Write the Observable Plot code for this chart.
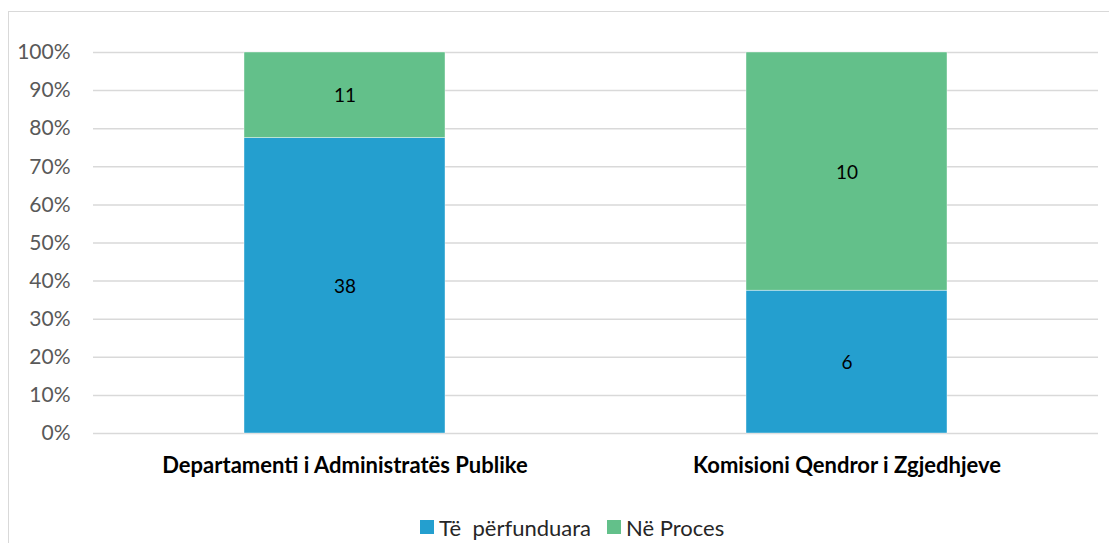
<!DOCTYPE html>
<html>
<head>
<meta charset="utf-8">
<script src="https://cdn.jsdelivr.net/npm/d3@7"></script>
<script src="https://cdn.jsdelivr.net/npm/@observablehq/plot@0.6"></script>
<style>
  html, body { margin: 0; padding: 0; background: #fff; overflow: hidden; }
  #wrap { position: relative; width: 1109px; height: 543px; font-family: Lato, "Open Sans", sans-serif; }
  #frame { position: absolute; left: 8px; top: 11px; width: 1120px; height: 560px; border: 1px solid #d9d9d9; box-sizing: border-box; }
  #chart { position: absolute; left: 0; top: 0; }
  #legend { position: absolute; left: 420px; top: 514px; height: 26px; display: flex; align-items: center; gap: 16px; font-size: 22px; color: #262626; }
  #legend .item { display: flex; align-items: center; gap: 5px; white-space: pre; }
  #legend .sw { width: 14px; height: 14px; display: inline-block; }
</style>
</head>
<body>
<div id="wrap">
  <div id="frame"></div>
  <div id="chart"></div>
  <div id="legend"></div>
</div>
<script>
const categories = ["Departamenti i Administratës Publike", "Komisioni Qendror i Zgjedhjeve"];
const seriesNames = ["Të  përfunduara", "Në Proces"];
const completed = [38, 6];
const inProcess = [11, 10];
const colors = ["#249fcf", "#63c08a"];
const yTicks = [0, 0.1, 0.2, 0.3, 0.4, 0.5, 0.6, 0.7, 0.8, 0.9, 1];

const data = [];
categories.forEach((c, i) => {
  data.push({category: c, series: seriesNames[0], value: completed[i]});
  data.push({category: c, series: seriesNames[1], value: inProcess[i]});
});

const stackOpts = {x: "category", y: "value", z: "series", offset: "normalize"};

const chart = Plot.plot({
  width: 1109,
  height: 500,
  marginTop: 52,
  marginBottom: 67,
  marginLeft: 93,
  marginRight: 11,
  style: {fontFamily: "Lato, 'Open Sans', sans-serif", background: "transparent"},
  x: {domain: categories, paddingInner: 0.6, paddingOuter: 0.3, label: null},
  y: {domain: [0, 1], ticks: yTicks, tickFormat: d3.format(".0%"), label: null},
  color: {domain: seriesNames, range: colors},
  marks: [
    Plot.ruleY(yTicks, {stroke: "#d9d9d9", strokeWidth: 1.5}),
    Plot.barY(data, Plot.stackY({...stackOpts, fill: "series", stroke: "white", strokeWidth: 0.4})),
    Plot.text(data, Plot.stackY({...stackOpts, text: "value", fill: "#000", fontSize: 19, dy: 1})),
    Plot.axisY({ticks: yTicks, tickFormat: d3.format(".0%"), tickSize: 0, tickPadding: 23, fontSize: 21, fill: "#595959", label: null}),
    Plot.axisX({tickSize: 0, tickPadding: 24, fontSize: 22, fontWeight: "bold", fill: "#000", label: null})
  ]
});
document.getElementById("chart").appendChild(chart);

const legend = document.getElementById("legend");
seriesNames.forEach((s, i) => {
  const item = document.createElement("span");
  item.className = "item";
  const sw = document.createElement("span");
  sw.className = "sw";
  sw.style.background = colors[i];
  const t = document.createElement("span");
  t.textContent = s;
  item.appendChild(sw);
  item.appendChild(t);
  legend.appendChild(item);
});
</script>
</body>
</html>
